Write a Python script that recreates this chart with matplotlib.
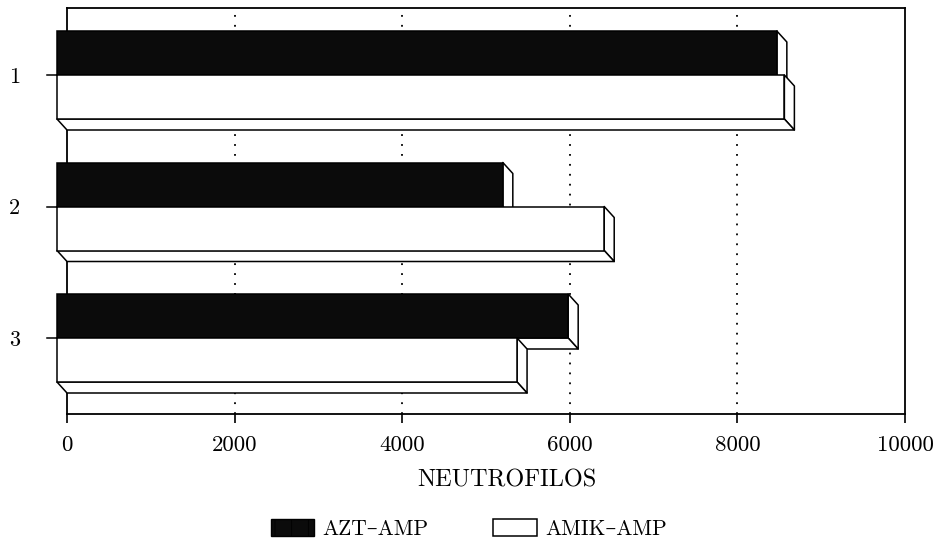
import matplotlib
matplotlib.use("Agg")
import matplotlib.pyplot as plt
from matplotlib.patches import Polygon, Patch

# data
grupos = ["1", "2", "3"]
azt_amp = [8590, 5320, 6100]
amik_amp = [8680, 6530, 5490]
x_ticks = [0, 2000, 4000, 6000, 8000, 10000]
series_labels = ["AZT\u2013AMP", "AMIK\u2013AMP"]

plt.rcParams["font.family"] = ["cmr10", "DejaVu Serif"]
plt.rcParams["axes.formatter.use_mathtext"] = True
plt.rcParams["hatch.color"] = "#7a7a7a"
plt.rcParams["hatch.linewidth"] = 0.6

fig = plt.figure(figsize=(9.43, 5.45), dpi=100)
fig.patch.set_facecolor("white")
# back plane of the pseudo-3D chart: x 67..905 px, y 8..414 px
ax = fig.add_axes([67 / 943, 131 / 545, 838 / 943, 406 / 545])

px_x = 10000 / 838.0        # value units per pixel
px_y = 1 / 131.5            # category units per pixel
DX = 10 * px_x              # depth offset (front -> back)
DY = 11 * px_y
H = 44 * px_y               # bar thickness

ax.set_xlim(0, 10000)
ax.set_ylim(3 + 76 * px_y, 1 - 67 * px_y)


def bar3d(value, top, dark):
    """Front face spans top..top+H, extruded towards the back plane."""
    x0, x1 = -DX, value - DX
    y0, y1 = top, top + H
    side = Polygon([(x1, y0), (x1 + DX, y0 + DY), (x1 + DX, y1 + DY), (x1, y1)],
                   closed=True, facecolor="white", edgecolor="black",
                   linewidth=1.1, zorder=3, clip_on=False, joinstyle="round")
    bottom = Polygon([(x0, y1), (x1, y1), (x1 + DX, y1 + DY), (x0 + DX, y1 + DY)],
                     closed=True, facecolor="white", edgecolor="black",
                     linewidth=1.1, zorder=3, clip_on=False, joinstyle="round")
    ax.add_patch(side)
    ax.add_patch(bottom)
    if dark:
        front = Polygon([(x0, y0), (x1, y0), (x1, y1), (x0, y1)], closed=True,
                        facecolor="#0b0b0b", edgecolor="#0b0b0b", hatch="|",
                        linewidth=0, zorder=3, clip_on=False)
        ax.add_patch(front)
    front_edge = Polygon([(x0, y0), (x1, y0), (x1, y1), (x0, y1)], closed=True,
                         facecolor="white" if not dark else "none",
                         edgecolor="black", linewidth=1.1, zorder=3,
                         clip_on=False)
    ax.add_patch(front_edge)


for i, g in enumerate(grupos):
    c = i + 1
    bar3d(azt_amp[i], c - H, True)
    bar3d(amik_amp[i], c, False)
    # y tick sits on the front plane
    ax.plot([-DX - 10 * px_x, -DX], [c, c], color="black", linewidth=1.1,
            clip_on=False, zorder=3)

# dotted grid on the back plane
for xv in x_ticks[1:-1]:
    ax.axvline(xv, color="black", linestyle=(0, (1, 4.5)), linewidth=1.3,
               zorder=0.5)

for side in ["top", "right", "left", "bottom"]:
    ax.spines[side].set_linewidth(1.3)
    ax.spines[side].set_zorder(0.6)

ax.set_xticks(x_ticks)
ax.set_xticklabels([str(v) for v in x_ticks], fontsize=16.5)
ax.tick_params(axis="x", direction="out", length=6.5, width=1.2, pad=9)
ax.set_yticks(range(1, len(grupos) + 1))
ax.set_yticklabels(grupos, fontsize=16)
ax.tick_params(axis="y", length=0, pad=34)

ax.set_xlabel("NEUTROFILOS", fontsize=17.5)
ax.xaxis.set_label_coords((507 - 67) / 838, -(480 - 414) / 406)
ax.xaxis.label.set_va("center")

handles = [Patch(facecolor="#0b0b0b", edgecolor="black", hatch="|"),
           Patch(facecolor="white", edgecolor="black", linewidth=1.1)]
fig.legend(handles, series_labels, loc="center", bbox_to_anchor=(469 / 943, 16 / 545),
           ncol=2, frameon=False, fontsize=15.5, handlelength=2.0,
           handleheight=0.8, handletextpad=0.4, columnspacing=3.0,
           borderpad=0, borderaxespad=0)

fig.savefig("out.png", dpi=100, facecolor="white")
